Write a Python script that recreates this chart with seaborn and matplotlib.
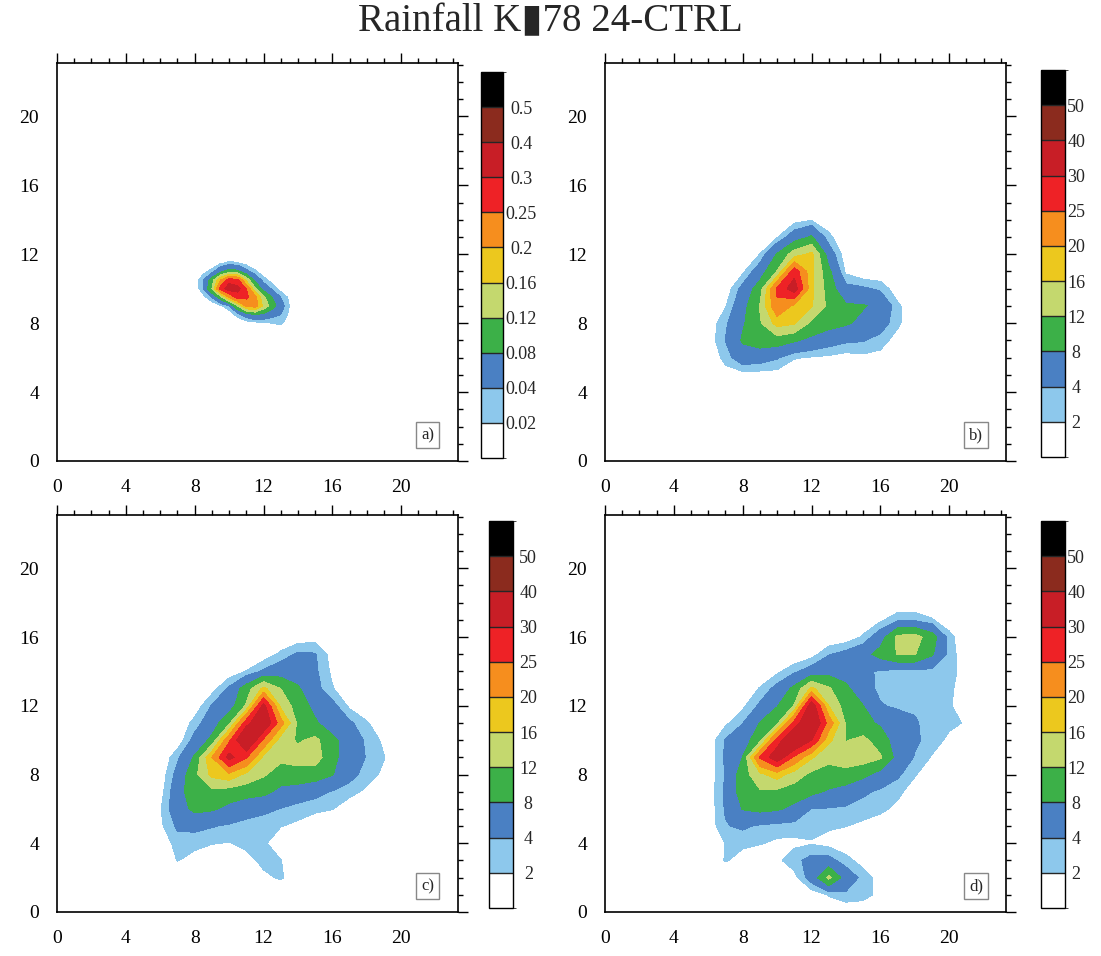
import numpy as np
import matplotlib
matplotlib.use('Agg')
import matplotlib as mpl
import matplotlib.pyplot as plt
from matplotlib.colors import ListedColormap, BoundaryNorm
from matplotlib.ticker import MultipleLocator
import seaborn as sns

sns.set_style("white")
plt.rcParams['font.family'] = ['Liberation Serif', 'DejaVu Sans']

# ---------------------------------------------------------------
# Rainfall fields (rows listed top -> bottom)
# ---------------------------------------------------------------
# a) X 8..14 step 0.5, Y 12..7.5
a_x0, a_y0, a_step = 8.0, 7.5, 0.5
a_rain = [
    [0, 0, 0, 0, 0, 0, 0, 0, 0, 0, 0, 0, 0],
    [0, 0, 0, 0.015, 0.025, 0.02, 0.01, 0, 0, 0, 0, 0, 0],
    [0, 0.01, 0.03, 0.07, 0.1, 0.09, 0.05, 0.025, 0.005, 0, 0, 0, 0],
    [0.005, 0.04, 0.1, 0.2, 0.28, 0.26, 0.15, 0.07, 0.03, 0.01, 0, 0, 0],
    [0, 0.04, 0.12, 0.27, 0.33, 0.32, 0.25, 0.13, 0.065, 0.035, 0.01, 0, 0],
    [0, 0.01, 0.04, 0.1, 0.2, 0.27, 0.26, 0.22, 0.13, 0.08, 0.04, 0.015, 0],
    [0, 0, 0, 0.015, 0.035, 0.12, 0.21, 0.22, 0.15, 0.1, 0.055, 0.02, 0],
    [0, 0, 0, 0, 0.005, 0.03, 0.06, 0.08, 0.07, 0.05, 0.04, 0.015, 0],
    [0, 0, 0, 0, 0, 0, 0.005, 0.01, 0.015, 0.02, 0.025, 0.005, 0],
    [0, 0, 0, 0, 0, 0, 0, 0, 0, 0, 0, 0, 0],
]

# b) X 5..18, Y 15..4
b_x0, b_y0, b_step = 5.0, 4.0, 1.0
b_rain = [
    [0, 0, 0, 0, 0, 0, 0, 0, 0, 0, 0, 0, 0, 0],
    [0, 0, 0, 0, 0, 0, 1, 1.8, 0.5, 0, 0, 0, 0, 0],
    [0, 0, 0, 0, 0, 1.8, 6, 8.5, 2.6, 0, 0, 0, 0, 0],
    [0, 0, 0, 0, 2.05, 8.3, 14, 17, 6, 0.5, 0, 0, 0, 0],
    [0, 0, 0, 1.5, 6, 12.2, 28, 17, 9, 1.5, 0, 0, 0, 0],
    [0, 0, 0.5, 5, 10, 26, 33, 17, 10, 5, 4.5, 3.5, 0.5, 0],
    [0, 0, 1.8, 6.5, 12.3, 24, 19, 16.3, 11, 8.5, 8.3, 7, 2.5, 0],
    [0, 0.5, 3.5, 7.5, 11.5, 17.5, 16.5, 11, 9.5, 8.5, 7, 5.5, 2.5, 0],
    [0, 0.5, 4.1, 8.5, 10, 10, 8.5, 7, 5.5, 4.5, 4.2, 3, 1, 0],
    [0, 0, 2.8, 6, 5.5, 4.3, 2.2, 1.8, 1.5, 1.0, 1.4, 1.2, 0.5, 0],
    [0, 0, 1, 1, 1, 1, 0, 0, 0, 0, 0, 0, 0, 0],
    [0, 0, 0, 0, 0, 0, 0, 0, 0, 0, 0, 0, 0, 0],
]

# c) X 5..20, Y 17..1
c_x0, c_y0, c_step = 5.0, 1.0, 1.0
c_rain = [
    [0, 0, 0, 0, 0, 0, 0, 0, 0, 0, 0, 0, 0, 0, 0, 0],
    [0, 0, 0, 0, 0, 0, 0, 0, 0, 0.5, 1.0, 0, 0, 0, 0, 0],
    [0, 0, 0, 0, 0, 0, 0, 0.5, 2.5, 4.5, 4.2, 1.0, 0, 0, 0, 0],
    [0, 0, 0, 0, 0, 0.5, 2.1, 4.5, 6, 6, 4.5, 1.5, 0, 0, 0, 0],
    [0, 0, 0, 0, 1, 4.5, 10, 17, 12, 8.5, 5, 2.2, 0, 0, 0, 0],
    [0, 0, 0, 0.5, 4.2, 6, 12.5, 32, 15, 10, 7, 5, 1.5, 0, 0, 0],
    [0, 0, 0, 2.8, 6, 11, 28, 36, 22, 11, 8.5, 6, 4.5, 2.3, 0, 0],
    [0, 0, 0.5, 5, 9, 24, 38, 24, 14, 11.5, 13, 9, 6, 3.5, 1.5, 0],
    [0, 0, 3.5, 8.5, 20, 32, 25.5, 15, 13, 13.5, 14, 9, 6, 3.8, 2.1, 0],
    [0, 0.5, 5, 11, 17, 19, 15, 12.5, 10, 10.5, 10, 8.2, 5, 3, 1.5, 0],
    [0, 1, 6, 11, 11, 10, 9.5, 9, 7, 6, 5, 3.8, 2.8, 1.5, 0, 0],
    [0, 1.8, 6, 9, 8.5, 7, 5.5, 4.8, 3.9, 3, 2.5, 2.1, 0.5, 0, 0, 0],
    [0, 1.5, 4.5, 4.8, 4.2, 3.6, 3, 2.5, 2.1, 1.5, 0.5, 0, 0, 0, 0, 0],
    [0, 0.5, 2.8, 2.6, 2.1, 1.9, 2.6, 2.4, 0.5, 0, 0, 0, 0, 0, 0, 0],
    [0, 0, 2.1, 1.2, 0.5, 0.5, 1.2, 2.6, 2.1, 0, 0, 0, 0, 0, 0, 0],
    [0, 0, 0, 0, 0, 0, 0, 1.5, 2.3, 0.5, 0, 0, 0, 0, 0, 0],
    [0, 0, 0, 0, 0, 0, 0, 0, 0, 0, 0, 0, 0, 0, 0, 0],
]

# d) X 5..21, Y 18..0
d_x0, d_y0, d_step = 5.0, 0.0, 1.0
d_rain = [
    [0, 0, 0, 0, 0, 0, 0, 0, 0, 0, 0, 0, 0, 0, 0, 0, 0],
    [0, 0, 0, 0, 0, 0, 0, 0, 0, 0, 0.5, 1.5, 3.5, 3.5, 2.2, 0.5, 0],
    [0, 0, 0, 0, 0, 0, 0, 0, 0, 0.5, 2.3, 6, 13, 13.5, 10, 2.8, 0],
    [0, 0, 0, 0, 0, 0, 0, 1, 3.8, 5, 6.5, 9.5, 12.2, 12.2, 8.5, 3, 0.5],
    [0, 0, 0, 0, 0, 1.5, 3.5, 5.5, 6.5, 6, 4.5, 3.7, 3, 3, 3.2, 2.8, 1],
    [0, 0, 0, 0, 2.2, 5, 9, 17, 12.5, 9, 5, 3.5, 3, 3, 2.8, 2.3, 1.2],
    [0, 0, 0, 1.5, 4.5, 7.8, 12.3, 34, 16, 10, 8.1, 4.2, 3.6, 3.6, 3, 2.3, 0.5],
    [0, 0, 1.5, 3.9, 8.2, 11, 27, 37, 23, 11.5, 9, 7.5, 5.5, 4.3, 3, 2.5, 1.8],
    [0, 0.5, 4.2, 6, 10.5, 27, 38, 30, 17, 11.8, 13, 10, 6, 4.5, 3, 1.5, 0.5],
    [0, 0, 4.5, 8.1, 25.5, 34, 24, 16.5, 13, 13.5, 14, 12.5, 6.5, 3.8, 1.8, 0, 0],
    [0, 0.5, 4.2, 10, 15, 18, 14, 11, 10.5, 11, 9, 6.5, 4.5, 2.2, 0.5, 0, 0],
    [0, 0.5, 4.5, 10, 11.5, 11, 10, 9, 7.5, 6, 4.5, 3.5, 2.5, 1, 0, 0, 0],
    [0, 0.5, 4.3, 8.2, 9, 8.5, 7, 3.9, 3.8, 3.6, 3, 2.5, 1.5, 0, 0, 0, 0],
    [0, 0.5, 3.8, 4.5, 3.6, 3.2, 3, 2.8, 2.3, 2.05, 1.5, 0.8, 0, 0, 0, 0, 0],
    [0, 0, 2.1, 2.4, 2.2, 1.5, 1.5, 1.8, 1.2, 0.5, 0, 0, 0, 0, 0, 0, 0],
    [0, 0, 2.2, 1.2, 0, 1.5, 3.2, 5, 5, 2.8, 1.0, 0, 0, 0, 0, 0, 0],
    [0, 0, 0, 0, 0, 0, 1.2, 5.5, 13, 6, 3.2, 1, 0, 0, 0, 0, 0],
    [0, 0, 0, 0, 0, 0, 0, 0.5, 2.2, 3.5, 3.0, 1.2, 0, 0, 0, 0, 0],
    [0, 0, 0, 0, 0, 0, 0, 0, 0, 0, 0, 0, 0, 0, 0, 0, 0],
]

levels_a = [0.02, 0.04, 0.08, 0.12, 0.16, 0.2, 0.25, 0.3, 0.4, 0.5]
levels_bcd = [2, 4, 8, 12, 16, 20, 25, 30, 40, 50]
labels_a = ['0.02', '0.04', '0.08', '0.12', '0.16', '0.2', '0.25', '0.3', '0.4', '0.5']
labels_bcd = ['2', '4', '8', '12', '16', '20', '25', '30', '40', '50']

fill_colors = ['#8DC8EC', '#4A80C3', '#3CB048', '#C4D86E', '#ECC81E',
               '#F68E1E', '#EE2226', '#C81E26', '#8B2B1E', '#000000']


def to_grid(x0, y0, step, rows):
    z = np.array(rows, dtype=float)[::-1]
    z = np.pad(z, 1)
    x = x0 + step * np.arange(-1, z.shape[1] - 1)
    y = y0 + step * np.arange(-1, z.shape[0] - 1)
    return x, y, z


fig = plt.figure(figsize=(11.01, 9.56), dpi=100)

W, H = 1101.0, 956.0
panels = [
    # field, levels, labels, axes box px (l, t, r, b), cbar box px, label pad
    ((a_x0, a_y0, a_step, a_rain), levels_a, labels_a, (57, 63, 458, 461), (481, 72, 503, 458), 13, 'a)'),
    ((b_x0, b_y0, b_step, b_rain), levels_bcd, labels_bcd, (605, 63, 1006, 461), (1041, 70, 1065, 457), 8, 'b)'),
    ((c_x0, c_y0, c_step, c_rain), levels_bcd, labels_bcd, (57, 515, 458, 912), (489, 521, 513, 908), 11, 'c)'),
    ((d_x0, d_y0, d_step, d_rain), levels_bcd, labels_bcd, (605, 515, 1006, 912), (1041, 521, 1065, 908), 8, 'd)'),
]

for (x0, y0, step, rows), levels, labels, box, cbox, pad, tag in panels:
    l, t, r, b = box
    ax = fig.add_axes([l / W, 1 - b / H, (r - l) / W, (b - t) / H])
    x, y, z = to_grid(x0, y0, step, rows)
    ax.contourf(x, y, z, levels=levels + [levels[-1] * 1e4], colors=fill_colors)
    ax.set_xlim(0, 23.3)
    ax.set_ylim(0, 23.1)
    ax.xaxis.set_major_locator(MultipleLocator(4))
    ax.yaxis.set_major_locator(MultipleLocator(4))
    ax.xaxis.set_minor_locator(MultipleLocator(1))
    ax.yaxis.set_minor_locator(MultipleLocator(1))
    ax.tick_params(which='both', direction='out', top=True, right=True,
                   colors='black', width=1)
    ax.tick_params(which='major', length=7, labelsize=14, pad=6)
    ax.tick_params(which='minor', length=3.5)
    for s in ax.spines.values():
        s.set_color('black')
        s.set_linewidth(1.2)
    ax.text(0.925, 0.065, tag, transform=ax.transAxes, ha='center', va='center',
            fontsize=12, bbox=dict(boxstyle='square,pad=0.3', fc='white', ec='#888888', lw=1))

    cl, ct, cr, cb_ = cbox
    cax = fig.add_axes([cl / W, 1 - cb_ / H, (cr - cl) / W, (cb_ - ct) / H])
    cb = mpl.colorbar.Colorbar(cax, cmap=ListedColormap(['white'] + fill_colors),
                               norm=BoundaryNorm(np.arange(12), 11),
                               ticks=np.arange(1, 11), drawedges=True)
    cb.set_ticklabels(labels)
    cb.outline.set_linewidth(1)
    cb.outline.set_edgecolor('black')
    cb.dividers.set_linewidth(1)
    cax.tick_params(length=0, pad=pad, labelsize=13)
    for tl in cax.get_yticklabels():
        tl.set_ha('center')

fig.text(0.5, 0.977, 'Rainfall K\u25AE78 24-CTRL', ha='center', va='center', fontsize=28)

fig.savefig('out.png', dpi=100)
